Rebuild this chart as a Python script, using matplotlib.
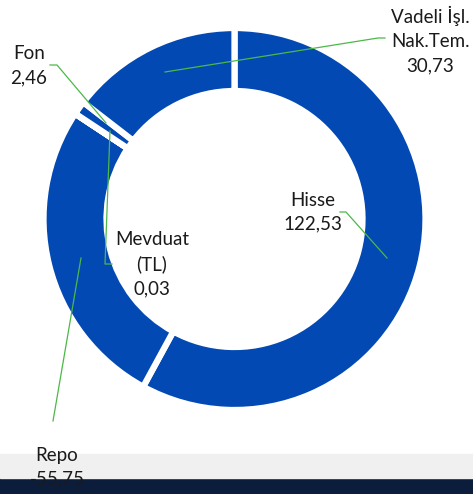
import matplotlib.pyplot as plt
from matplotlib.patches import Rectangle

# portfolio breakdown (values as printed on the chart)
labels = ["Hisse", "Repo", "Mevduat\n(TL)", "Fon", "Vadeli İşl.\nNak.Tem."]
values = [122.53, -55.75, 0.03, 2.46, 30.73]

blue = "#0349B4"
green = "#4CB848"
H = 494

fig = plt.figure(figsize=(4.73, 4.94), dpi=100)
ax = fig.add_axes([0, 0, 1, 1])

# pixel-ish helper: reference coords have y going down
def P(x, y):
    return (x, H - y)

cx, cy = P(234.5, 219)
ax.pie([abs(v) for v in values], startangle=90, counterclock=False,
       colors=[blue] * len(values), radius=191, center=(cx, cy),
       wedgeprops=dict(width=63, edgecolor="white", linewidth=4.5), frame=True)
ax.set_xlim(0, 473)
ax.set_ylim(0, H)
ax.axis("off")

# slide footer bands
ax.add_patch(Rectangle((0, 0), 473, 16, color="#0B1D3A", zorder=0))
ax.add_patch(Rectangle((0, 16), 473, 24, color="#F0F0F0", zorder=0))

def fmt(v):
    return f"{v:.2f}".replace(".", ",")

font = dict(fontsize=13.5, family="Lato", color="#1a1a1a", ha="center",
            va="center", linespacing=1.5, zorder=5)

# label positions and leader lines
label_pos = [(313, 212), (57, 467), (152, 264), (29, 66), (430, 40)]
leaders = [
    [(340, 212), (346, 212), (387, 258)],
    [(53, 421), (81, 258)],
    [(110, 131), (105, 264), (112, 264)],
    [(50, 65), (57, 65), (106, 123)],
    [(385, 38), (378, 38), (165, 72)],
]

for lab, v, pos, pts in zip(labels, values, label_pos, leaders):
    x, y = P(*pos)
    ax.text(x, y, f"{lab}\n{fmt(v)}", **font)
    xs = [p[0] for p in pts]
    ys = [H - p[1] for p in pts]
    ax.plot(xs, ys, color=green, lw=0.9, zorder=4)

fig.savefig("out.png", dpi=100)
